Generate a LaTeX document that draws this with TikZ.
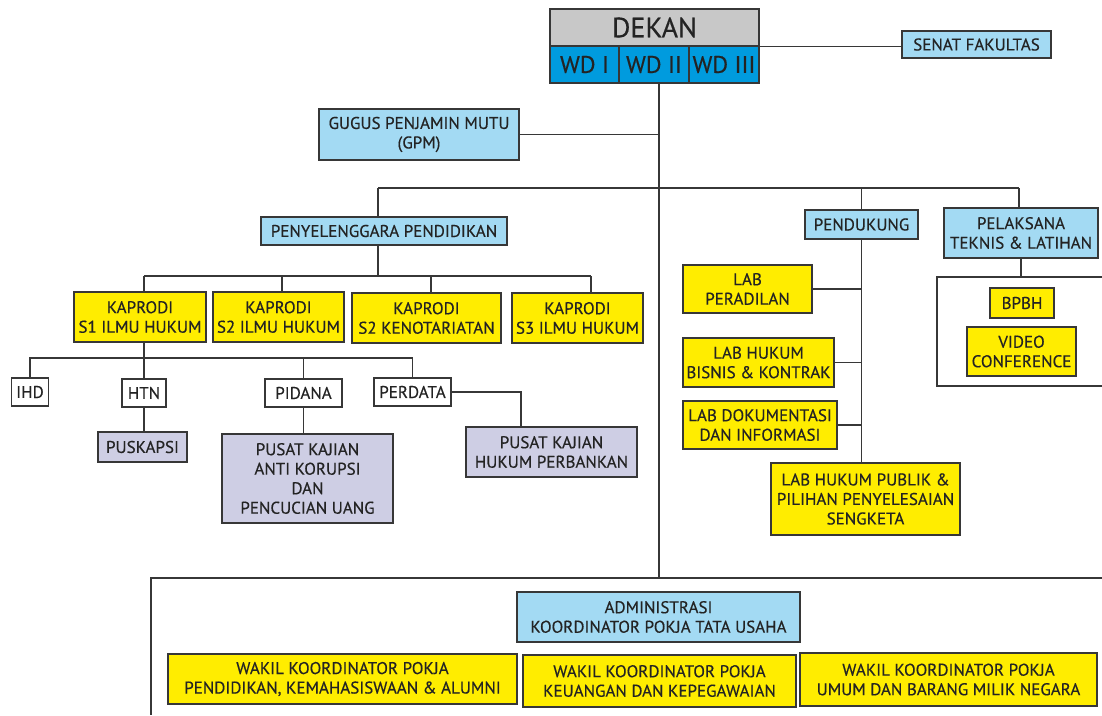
\documentclass[tikz,border=0pt]{standalone}
\usepackage{fontspec}
\setmainfont{PT Sans}[FakeBold=0.4]
\definecolor{cGray}{RGB}{200,200,200}
\definecolor{cWd}{RGB}{0,155,222}
\definecolor{cSky}{RGB}{163,218,243}
\definecolor{cYel}{RGB}{255,237,0}
\definecolor{cLilac}{RGB}{206,206,228}
\definecolor{cLine}{RGB}{55,55,55}
\definecolor{cText}{RGB}{35,35,35}
\begin{document}
\begin{tikzpicture}[x=1pt, y=-1pt,
  unit/.style={rectangle, draw=cLine, line width=1.1pt, inner sep=0pt, align=center, text=cText, font=\fontsize{17}{19.5}\selectfont},
  skybox/.style={unit, fill=cSky},
  yelbox/.style={unit, fill=cYel},
  lilacbox/.style={unit, fill=cLilac},
  plainbox/.style={unit, fill=white},
  wdbox/.style={unit, fill=cWd, font=\fontsize{24}{28}\selectfont},
  link/.style={draw=cLine, line width=1.4pt}]
\useasboundingbox (0,0) rectangle (1102,715);
% pimpinan
\node[unit, fill=cGray, font=\fontsize{28}{30}\selectfont, minimum width=209, minimum height=37] (dekan) at (654.5,27.5){DEKAN};
\node[wdbox, minimum width=69, minimum height=37] (wd1) at (584.5,64.5){WD I};
\node[wdbox, minimum width=70, minimum height=37] (wd2) at (654,64.5){WD II};
\node[wdbox, minimum width=70, minimum height=37] (wd3) at (724,64.5){WD III};
\node[skybox, minimum width=149, minimum height=27] (senat) at (976.5,44.5){SENAT FAKULTAS};
\draw[link](dekan.south east) -- (dekan.south east -| senat.west);
\coordinate (tk0) at (659,83);
\coordinate (tk1) at (659,578);
\draw[link](tk0) -- (tk1);
\node[skybox, minimum width=200, minimum height=51] (gpm) at (419,134.5){GUGUS PENJAMIN MUTU\\(GPM)};
\draw[link](gpm.east) -- (gpm.east -| tk0);
% bus utama
\coordinate (busL) at (378,188);
\coordinate (busR) at (1019,188);
\draw[link](busL) -- (busR);
\node[skybox, minimum width=246, minimum height=28] (peny) at (384,231){PENYELENGGARA PENDIDIKAN};
\node[skybox, minimum width=113, minimum height=29] (pend) at (861.5,224.5){PENDUKUNG};
\node[skybox, minimum width=154, minimum height=50] (pel) at (1021,233){PELAKSANA\\TEKNIS \& LATIHAN};
\draw[link](busL) -- (busL |- peny.north);
\draw[link](pend.north) -- (pend.north |- busL);
\draw[link](busR) -- (busR |- pel.north);
% prodi
\node[yelbox, minimum width=132, minimum height=50] (kap1) at (140,317){KAPRODI\\S1 ILMU HUKUM};
\node[yelbox, minimum width=131, minimum height=50] (kap2) at (278.5,317){KAPRODI\\S2 ILMU HUKUM};
\node[yelbox, minimum width=149, minimum height=50] (kap3) at (426.5,318){KAPRODI\\S2 KENOTARIATAN};
\node[yelbox, minimum width=131, minimum height=50] (kap4) at (577.5,318){KAPRODI\\S3 ILMU HUKUM};
\coordinate (busK) at (378,276);
\draw[link](busL |- peny.south) -- (busK);
\draw[link](144,276) -- (591,276);
\draw[link](144,276) -- (144,276 |- kap1.north);
\draw[link](282,276) -- (282,276 |- kap2.north);
\draw[link](431,276) -- (431,276 |- kap3.north);
\draw[link](591,276) -- (591,276 |- kap4.north);
% bagian
\node[plainbox, minimum width=37, minimum height=28] (ihd) at (30,392){IHD};
\node[plainbox, minimum width=44, minimum height=28] (htn) at (144,393){HTN};
\node[plainbox, minimum width=77, minimum height=28] (pid) at (303.5,393){PIDANA};
\node[plainbox, minimum width=77, minimum height=28] (perd) at (412.5,392){PERDATA};
\coordinate (busB) at (144,358);
\draw[link](144,358 |- kap1.south) -- (busB);
\draw[link](ihd.north) |- (busB);
\draw[link](perd.north) |- (busB);
\draw[link](htn.north) -- (htn.north |- busB);
\draw[link](pid.north) -- (pid.north |- busB);
\node[lilacbox, minimum width=89, minimum height=30] (pusk) at (142.5,447){PUSKAPSI};
\node[lilacbox, minimum width=171, minimum height=89] (pkak) at (307.5,478.5){PUSAT KAJIAN\\ANTI KORUPSI\\DAN\\PENCUCIAN UANG};
\node[lilacbox, minimum width=171, minimum height=50] (pkhp) at (551.5,452){PUSAT KAJIAN\\HUKUM PERBANKAN};
\draw[link](htn.south) -- (htn.south |- pusk.north);
\draw[link](pid.south) -- (pid.south |- pkak.north);
\draw[link](perd.east) -| (521,0 |- pkhp.north);
% pendukung
\node[yelbox, minimum width=129, minimum height=48] (lpe) at (747.5,289){LAB\\PERADILAN};
\node[yelbox, minimum width=151, minimum height=49] (lhb) at (758.5,362.5){LAB HUKUM\\BISNIS \& KONTRAK};
\node[yelbox, minimum width=154, minimum height=48] (ldi) at (760,425){LAB DOKUMENTASI\\DAN INFORMASI};
\node[yelbox, minimum width=189, minimum height=72] (lhp) at (865.5,499){LAB HUKUM PUBLIK \&\\PILIHAN PENYELESAIAN\\SENGKETA};
\draw[link](pend.south) -- (pend.south |- lhp.north);
\draw[link](lpe.east) -- (lpe.east -| pend.south);
\draw[link](lhb.east) -- (lhb.east -| pend.south);
\draw[link](ldi.east) -- (ldi.east -| pend.south);
% pelaksana teknis
\coordinate (grp) at (937,277);
\draw[draw=cLine, line width=1.1pt](1102,277) -- (grp) -- (937,386) -- (1102,386);
\draw[link](pel.south) -- (pel.south |- grp);
\node[yelbox, minimum width=64, minimum height=30] (bpbh) at (1022,303){BPBH};
\node[yelbox, minimum width=109, minimum height=49] (video) at (1021.5,351.5){VIDEO\\CONFERENCE};
% administrasi
\draw[draw=cLine, line width=1.1pt](1102,578) -- (tk1) -- (151,578) -- (151,715);
\node[skybox, minimum width=283, minimum height=50] (adm) at (658.5,617){ADMINISTRASI\\KOORDINATOR POKJA TATA USAHA};
\node[yelbox, minimum width=349, minimum height=50] (wak1) at (342.5,679){WAKIL KOORDINATOR POKJA\\PENDIDIKAN, KEMAHASISWAAN \& ALUMNI};
\node[yelbox, minimum width=273, minimum height=52] (wak2) at (659.5,681){WAKIL KOORDINATOR POKJA\\KEUANGAN DAN KEPEGAWAIAN};
\node[yelbox, minimum width=297, minimum height=53] (wak3) at (948.5,679.5){WAKIL KOORDINATOR POKJA\\UMUM DAN BARANG MILIK NEGARA};
\end{tikzpicture}
\end{document}
